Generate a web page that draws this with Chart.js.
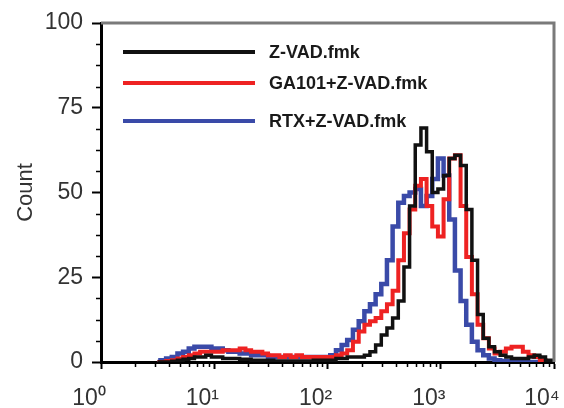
<!DOCTYPE html>
<html>
<head>
<meta charset="utf-8">
<script src="https://cdn.jsdelivr.net/npm/chart.js@4.4.1/dist/chart.umd.min.js"></script>
<style>
  html, body { margin: 0; padding: 0; background: #fff; }
  canvas { display: block; }
</style>
</head>
<body>
<canvas id="c" width="564" height="408" style="width:564px;height:408px"></canvas>
<script>
// Flow histogram: channel (log FL) vs count, three treatments.

const channels = [
  3.16, 3.55, 3.98, 4.47, 5.01, 5.62, 6.31, 7.08, 7.94, 8.91,
  10.0, 11.2, 12.6, 14.1, 15.8, 17.8, 20.0, 22.4, 25.1, 28.2,
  31.6, 35.5, 39.8, 44.7, 50.1, 56.2, 63.1, 70.8, 79.4, 89.1,
  100, 112, 126, 141, 158, 178, 200, 224, 251, 282,
  316, 355, 398, 447, 501, 562, 631, 708, 794, 891,
  1000, 1122, 1259, 1413, 1585, 1778, 1995, 2239, 2512, 2818,
  3162, 3548, 3981, 4467, 5012, 5623, 6310, 7079, 7943, 8913,
  10000
];

const zvad = [
  0, 0, 0, 0.2, 0.5, 0.8, 1, 1.5, 1.5, 2,
  1.5, 1.5, 1, 1, 1, 0.8, 0.8, 0.5, 0.5, 0.5,
  0.5, 0.3, 0.3, 0.3, 0.3, 0.3, 0.3, 0.3, 0.5, 0.5,
  0.5, 0.5, 1, 1, 1.5, 1.5, 1.5, 2, 3, 5,
  8, 10, 13, 18, 28, 46, 64, 69, 62, 50,
  51, 55, 60, 61, 58, 45, 30, 14, 7, 4.5,
  3, 2, 1.5, 1, 1, 1, 1.5, 2, 1.5, 0.5,
  0
];

const ga101 = [
  0, 0, 0.3, 0.5, 1, 1.5, 2, 2.5, 3, 3,
  3, 3, 3.5, 3.5, 3.5, 4, 3.5, 3, 3, 2.5,
  2, 2, 1.5, 2, 1.5, 2, 1.5, 1.5, 1.5, 1.5,
  1.5, 1.5, 2, 2.5, 3.5, 6, 9, 11, 12, 13,
  15, 17, 21, 30, 38, 45, 52, 54, 46, 40,
  37, 48, 60, 61, 46, 31, 20, 11, 7, 4,
  2.5, 3, 4, 4.5, 4.5, 3, 2, 1.5, 0.5, 0,
  0
];

const rtx = [
  0, 0.5, 1, 1.5, 2.5, 3, 4, 4.5, 4.5, 4.5,
  4, 4, 3.5, 3, 3, 2.5, 2.5, 2, 2, 2,
  1.5, 1.5, 1.5, 1.5, 1.5, 1.5, 1.5, 1.5, 1.5, 1.5,
  1.5, 2, 3.5, 5, 6.5, 9.5, 12, 15, 17, 20,
  23, 30, 40, 47, 49, 50, 51, 46, 49, 54,
  60, 55, 42, 27, 18, 11, 6, 3.5, 2, 1,
  0.5, 0.3, 0.2, 0, 0, 0, 0, 0, 0, 0,
  0
];

const seriesNames = ['Z-VAD.fmk', 'GA101+Z-VAD.fmk', 'RTX+Z-VAD.fmk'];
const seriesColors = ['#111111', '#ee2222', '#3a4aa8'];
const yTicks = [0, 25, 50, 75, 100];
const xTicks = [1, 10, 100, 1000, 10000];
const xTickLabels = ['10\u2070', '10\u00b9', '10\u00b2', '10\u00b3', '10\u2074'];

const FONT = "'Liberation Sans', Arial, sans-serif";
const TEXT = '#333333';

function toPoints(vals) {
  return vals.map((v, i) => ({ x: channels[i], y: v }));
}

// gray frame on top/right, short minor ticks on both axes
const framePlugin = {
  id: 'frame',
  afterDraw(chart) {
    const { ctx, chartArea: a, scales } = chart;
    ctx.save();
    ctx.strokeStyle = '#7a7a7a';
    ctx.lineWidth = 3;
    ctx.beginPath();
    ctx.moveTo(a.left, a.top);
    ctx.lineTo(a.right, a.top);
    ctx.lineTo(a.right, a.bottom);
    ctx.stroke();

    ctx.strokeStyle = '#000';
    ctx.lineWidth = 1.5;
    ctx.beginPath();
    for (let v = 6.25; v < 100; v += 6.25) {
      if (v % 25 === 0) continue;
      const y = Math.round(scales.y.getPixelForValue(v)) + 0.5;
      ctx.moveTo(a.left - 5, y);
      ctx.lineTo(a.left, y);
    }
    for (let d = 1; d < 10000; d *= 10) {
      for (let m = 2; m <= 9; m++) {
        const x = Math.round(scales.x.getPixelForValue(m * d)) + 0.5;
        ctx.moveTo(x, a.bottom);
        ctx.lineTo(x, a.bottom + 5);
      }
    }
    ctx.stroke();
    ctx.restore();
  }
};

// legend drawn inside the plot, upper left
const legendPlugin = {
  id: 'insideLegend',
  afterDatasetsDraw(chart) {
    const { ctx } = chart;
    const rows = [52, 83, 121];
    ctx.save();
    ctx.font = 'bold 18px ' + FONT;
    ctx.textBaseline = 'middle';
    ctx.textAlign = 'left';
    seriesNames.forEach((name, i) => {
      ctx.strokeStyle = seriesColors[i];
      ctx.lineWidth = 4;
      ctx.beginPath();
      ctx.moveTo(123, rows[i]);
      ctx.lineTo(255, rows[i]);
      ctx.stroke();
      ctx.fillStyle = '#1a1a1a';
      ctx.fillText(name, 269, rows[i] + 1);
    });
    ctx.restore();
  }
};

new Chart(document.getElementById('c'), {
  type: 'line',
  data: {
    datasets: [zvad, ga101, rtx].map((vals, i) => ({
      label: seriesNames[i],
      data: toPoints(vals),
      borderColor: seriesColors[i],
      backgroundColor: seriesColors[i],
      borderWidth: [3.5, 4, 4.5][i],
      pointRadius: 0,
      stepped: 'middle',
      fill: false,
    })),
  },
  options: {
    responsive: false,
    animation: false,
    events: [],
    layout: { padding: { top: 23, right: 10, left: 0, bottom: 0 } },
    plugins: {
      legend: { display: false },
      tooltip: { enabled: false },
    },
    scales: {
      x: {
        type: 'logarithmic',
        min: 1,
        max: 10000,
        afterBuildTicks: s => { s.ticks = xTicks.map(v => ({ value: v })); },
        afterFit: s => { s.height = 46; s.paddingLeft = 0; s.paddingRight = 0; },
        grid: { drawOnChartArea: false, tickLength: 7, tickWidth: 2, tickColor: '#000' },
        border: { color: '#000', width: 3 },
        ticks: {
          autoSkip: false,
          maxRotation: 0,
          padding: 16,
          labelOffset: -12,
          color: TEXT,
          font: { family: FONT, size: 23 },
          callback: v => xTickLabels[xTicks.indexOf(v)] ?? '',
        },
      },
      y: {
        min: 0,
        max: 100,
        afterBuildTicks: s => { s.ticks = yTicks.map(v => ({ value: v })); },
        afterFit: s => { s.width = 101; s.paddingTop = 0; s.paddingBottom = 0; },
        grid: { drawOnChartArea: false, tickLength: 9, tickWidth: 2, tickColor: '#000' },
        border: { color: '#000', width: 3 },
        ticks: {
          padding: 9,
          color: TEXT,
          font: { family: FONT, size: 23 },
        },
        title: {
          display: true,
          text: 'Count',
          color: TEXT,
          font: { family: FONT, size: 22 },
          padding: { top: 13, bottom: 0 },
        },
      },
    },
  },
  plugins: [framePlugin, legendPlugin],
});
</script>
</body>
</html>
